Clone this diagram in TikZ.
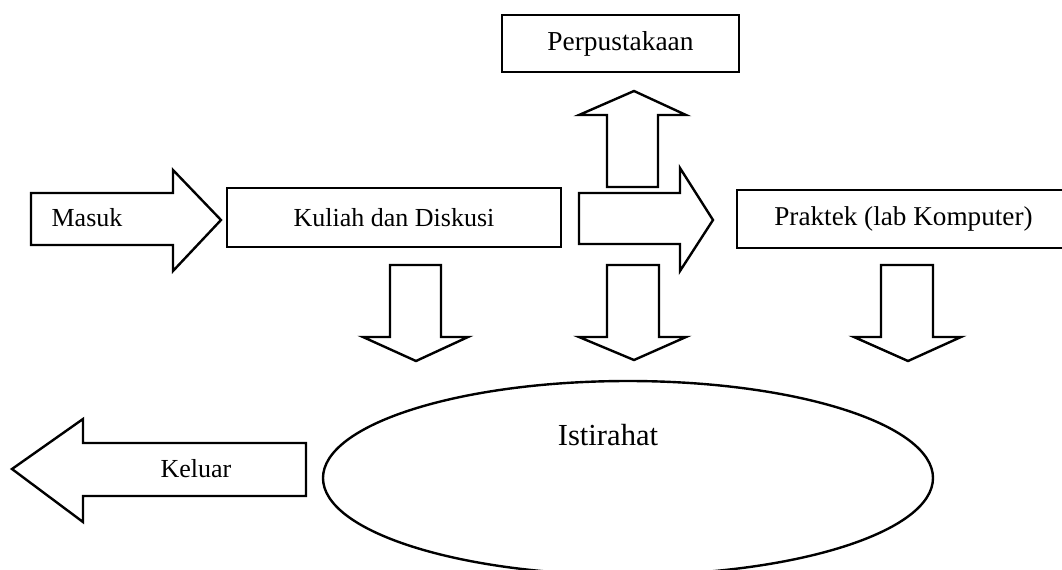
\documentclass[tikz,border=0pt]{standalone}
\usepackage{fontspec}
\setmainfont{Liberation Serif}
\usetikzlibrary{shapes.geometric}
\begin{document}
\begin{tikzpicture}[x=0.5pt,y=-0.5pt,
  outline/.style={draw=black,line width=1.2pt,line join=miter},
  fatarrow/.style={outline,fill=white},
  boxnode/.style={outline,rectangle,inner sep=0pt,font=\fontsize{13}{15}\selectfont},
  labeltext/.style={inner sep=0pt,font=\fontsize{13}{15}\selectfont},
  bigtext/.style={inner sep=0pt,font=\fontsize{15.3}{18}\selectfont}]
\useasboundingbox (0,0) rectangle (1062,569);

% boxes
\node[boxnode,minimum width=118.5pt,minimum height=28.5pt,font=\fontsize{13.7}{16}\selectfont] (perpus) at (620.5,43.5) {Perpustakaan};
\node[boxnode,minimum width=167pt,minimum height=29.5pt] (kuliah) at (394,217.5) {Kuliah dan Diskusi};
\node[boxnode,minimum width=166.5pt,minimum height=29pt,font=\fontsize{13.6}{16}\selectfont] (praktek) at (903.5,219) {Praktek (lab Komputer)};

% rest area
\node[outline,ellipse,inner sep=0pt,minimum width=305pt,minimum height=97pt] (rest) at (628,478) {};
\node[bigtext] (resttext) at (608,435) {Istirahat};

% entry arrow
\draw[fatarrow] (31,193) -- (173,193) -- (173,170) -- (221,220) -- (173,271) -- (173,245) -- (31,245) -- cycle;
\node[labeltext] (masuk) at (87,218) {Masuk};

% arrow from lectures to practice
\draw[fatarrow] (579,193) -- (680,193) -- (680,168) -- (713,220) -- (680,271) -- (680,244) -- (579,244) -- cycle;

% arrow up to the library
\draw[fatarrow] (607,187) -- (607,115) -- (579,115) -- (634,91) -- (686,115) -- (658,115) -- (658,187) -- cycle;

% arrows down to the rest area
\draw[fatarrow] (390,265) -- (390,337) -- (363,337) -- (416,361) -- (468,337) -- (441,337) -- (441,265) -- cycle;
\draw[fatarrow] (607,265) -- (607,337) -- (579,337) -- (634,360) -- (686,337) -- (659,337) -- (659,265) -- cycle;
\draw[fatarrow] (881,265) -- (881,337) -- (854,337) -- (908,361) -- (961,337) -- (933,337) -- (933,265) -- cycle;

% exit arrow
\draw[fatarrow] (306,443) -- (83,443) -- (83,419) -- (12,469) -- (83,522) -- (83,496) -- (306,496) -- cycle;
\node[labeltext] (keluar) at (196,469) {Keluar};
\end{tikzpicture}
\end{document}
